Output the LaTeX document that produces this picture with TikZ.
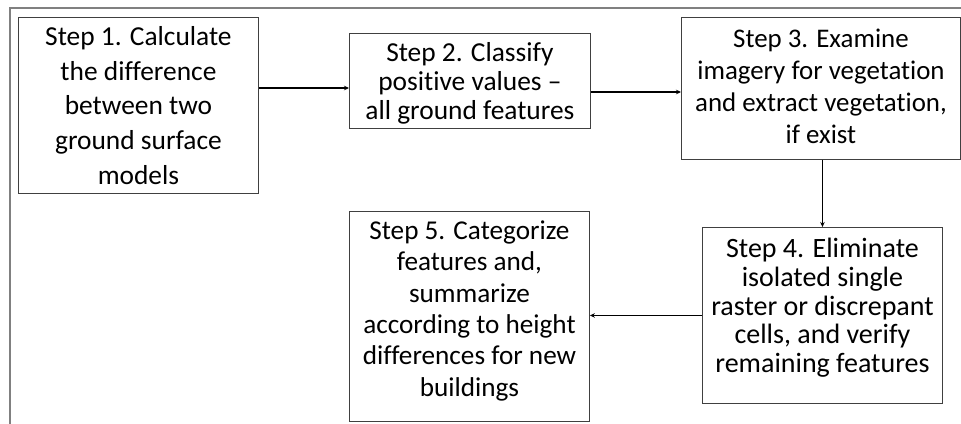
\documentclass[tikz,border=0pt]{standalone}
\usepackage{fontspec}
\setmainfont{Carlito}[Ligatures=NoCommon]
\usetikzlibrary{arrows.meta}

\begin{document}
\begin{tikzpicture}[x=1pt,y=-1pt,
  stepbox/.style={draw=black!75,line width=0.9pt,align=center,inner sep=0pt,anchor=north west},
  flow/.style={-{Stealth[length=5pt,width=4.5pt]},line width=1.3pt}]

\useasboundingbox (0,0) rectangle (961,423);

% Outer frame, only top and left edges show.
\draw[line width=1.8pt,color=black!50] (10,430) -- (10,8) -- (970,8);

% The five step boxes.
\node[stepbox,minimum width=240pt,minimum height=176pt,font=\fontsize{27.4}{34.7}\selectfont] (step1) at (18,17)
  {Step 1. Calculate\\the difference\\between two\\ground surface\\models};
\node[stepbox,minimum width=241pt,minimum height=95pt,text depth=-11pt,font=\fontsize{27.4}{29}\selectfont] (step2) at (349,33)
  {Step 2. Classify\\positive values --\\all ground features};
\node[stepbox,minimum width=279pt,minimum height=142pt,text depth=4pt,font=\fontsize{26.9}{32}\selectfont] (step3) at (681,17)
  {Step 3. Examine\\imagery for vegetation\\and extract vegetation,\\if exist};
\node[stepbox,minimum width=240pt,minimum height=176pt,text depth=20pt,font=\fontsize{28}{28.7}\selectfont] (step4) at (702,227)
  {Step 4. Eliminate\\isolated single\\raster or discrepant\\cells, and verify\\remaining features};
\node[stepbox,minimum width=240pt,minimum height=210pt,text depth=16pt,font=\fontsize{27.2}{31.3}\selectfont] (step5) at (349,211)
  {Step 5. Categorize\\features and,\\summarize\\according to height\\differences for new\\buildings};

% Arrows between the steps.
\coordinate (y12) at (0,88);
\coordinate (y23) at (0,92);
\draw[flow] (step1.east |- y12) -- (step2.west |- y12);
\draw[flow] (step2.east |- y23) -- (step3.west |- y23);
\draw[flow] (step3.south -| step4.north) -- (step4.north);
\draw[flow] (step4.west) -- (step5.east |- step4.west);

\end{tikzpicture}
\end{document}
